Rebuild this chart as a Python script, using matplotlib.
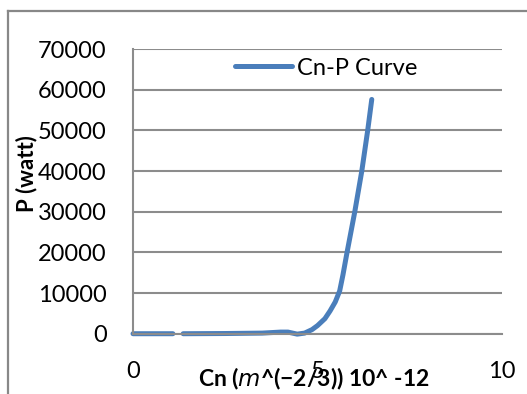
import numpy as np
import matplotlib
matplotlib.use('Agg')
import matplotlib.pyplot as plt
from matplotlib.lines import Line2D

# Valores (Cn em 10^-12, P em watt)
cn = [0, 1.08, np.nan, 1.36, 2.5, 3.5, 4.0, 4.2, 4.45, 4.65, 4.85, 5.0,
      5.2, 5.34, 5.48, 5.6, 5.69, 5.79, 6.01, 6.20, 6.36, 6.47]
p = [0, 0, np.nan, 0, 50, 150, 400, 400, -100, 150, 1000, 2000,
     3700, 5600, 7800, 10500, 14500, 19500, 30000, 40000, 50000, 57600]

x_ticks = [0, 5, 10]
y_ticks = [0, 10000, 20000, 30000, 40000, 50000, 60000, 70000]

plt.rcParams['font.family'] = ['Lato', 'DejaVu Sans']

fig = plt.figure(figsize=(5.27, 3.94), dpi=100)
ax = fig.add_axes([0.2524, 0.153, 0.7002, 0.7226])

ax.plot(cn, p, color='#4a7ebb', linewidth=3.6, solid_capstyle='round',
        solid_joinstyle='round', clip_on=False, label='Cn-P Curve')

ax.set_xlim(0, 10)
ax.set_ylim(0, 70000)
ax.set_xticks(x_ticks)
ax.set_yticks(y_ticks)
ax.tick_params(axis='both', length=0, labelsize=17)
ax.tick_params(axis='y', pad=19)
ax.tick_params(axis='x', pad=20)

# Grade e eixos
ax.grid(axis='y', color='#8c8c8c', linewidth=1.5)
ax.set_axisbelow(True)
for s in ['top', 'right']:
    ax.spines[s].set_visible(False)
for s in ['left', 'bottom']:
    ax.spines[s].set_color('#8c8c8c')
    ax.spines[s].set_linewidth(1.5)

ax.set_ylabel('P (watt)', fontsize=16, fontweight='bold')
ax.yaxis.set_label_coords(-0.26, 0.564)
ax.set_xlabel('Cn ($m$^(−2/3)) 10^ -12', fontsize=16.5, fontweight='bold')
ax.xaxis.set_label_coords(0.49, -0.114)

ax.legend(loc='center', bbox_to_anchor=(0.523, 0.933), frameon=False,
          fontsize=17, handlelength=2.4, handletextpad=0.2)

# Moldura externa
fig.add_artist(Line2D([8 / 527, 1], [1 - 11 / 394, 1 - 11 / 394],
                      color='#888888', linewidth=1.6))
fig.add_artist(Line2D([8 / 527, 8 / 527], [0, 1 - 11 / 394],
                      color='#888888', linewidth=1.6))

fig.savefig('out.png', dpi=100)
